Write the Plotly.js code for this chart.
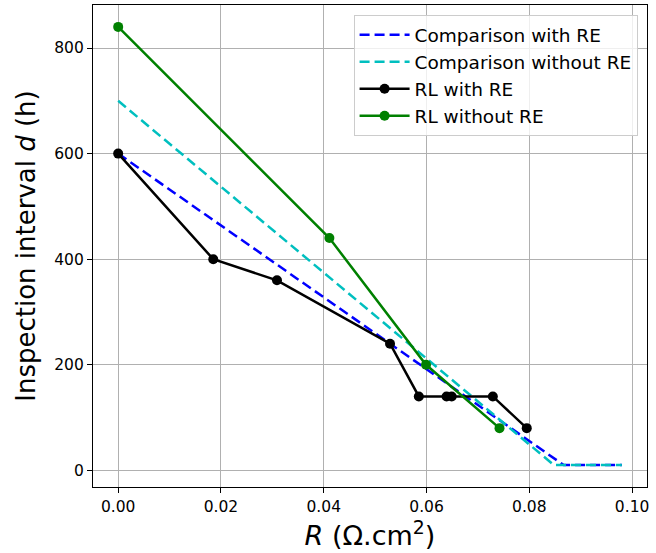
<!DOCTYPE html>
<html><head><meta charset="utf-8">
<script src="https://cdn.plot.ly/plotly-3.0.1.min.js"></script>
<style>body{margin:0;padding:0;background:#fff}#chart{width:656px;height:553px}</style>
</head><body><div id="chart"></div>
<script>
const cmpWithR = [0, 0.0867, 0.098];
const cmpWithD = [600, 10, 10];
const cmpWithoutR = [0, 0.0848, 0.098];
const cmpWithoutD = [700, 10, 10];
const rlWithR = [0, 0.0185, 0.0309, 0.0529, 0.0585, 0.0639, 0.0649, 0.0729, 0.0795];
const rlWithD = [600, 400, 360, 240, 140, 140, 140, 140, 80];
const rlWithoutR = [0, 0.0411, 0.0599, 0.0742];
const rlWithoutD = [840, 440, 200, 80];
const xTicks = [0, 0.02, 0.04, 0.06, 0.08, 0.10];
const xTickText = ['0.00','0.02','0.04','0.06','0.08','0.10'];
const yTicks = [0, 200, 400, 600, 800];

const traces = [
  {x: cmpWithR, y: cmpWithD, mode: 'lines', name: 'Comparison with RE',
   line: {color: '#0000ff', width: 2.5, dash: '10px,5px'}},
  {x: cmpWithoutR, y: cmpWithoutD, mode: 'lines', name: 'Comparison without RE',
   line: {color: '#00bfbf', width: 2.5, dash: '10px,5px'}},
  {x: rlWithR, y: rlWithD, mode: 'lines+markers', name: 'RL with RE',
   line: {color: '#000000', width: 2.5}, marker: {color: '#000000', size: 10}},
  {x: rlWithoutR, y: rlWithoutD, mode: 'lines+markers', name: 'RL without RE',
   line: {color: '#008000', width: 2.5}, marker: {color: '#008000', size: 10}}
];
const axisCommon = {
  showline: true, linecolor: '#000', linewidth: 1.2, mirror: true,
  ticks: 'outside', ticklen: 5, tickcolor: '#000', tickwidth: 1,
  showgrid: true, gridcolor: '#b0b0b0', gridwidth: 1, zeroline: false,
  tickfont: {family: 'DejaVu Sans', size: 15.5, color: '#000'}
};
const layout = {
  width: 656, height: 553,
  margin: {l: 93, r: 9, t: 5, b: 66},
  paper_bgcolor: '#fff', plot_bgcolor: '#fff',
  font: {family: 'DejaVu Sans', color: '#000'},
  showlegend: true,
  legend: {x: 0.983, xanchor: 'right', y: 0.979, yanchor: 'top',
    itemwidth: 50,
    bgcolor: 'rgba(255,255,255,0.8)', bordercolor: '#cccccc', borderwidth: 1,
    font: {family: 'DejaVu Sans', size: 18.5, color: '#000'}},
  xaxis: Object.assign({}, axisCommon, {
    range: [-0.0049, 0.1029], tickvals: xTicks, ticktext: xTickText,
    title: {text: '<i>R</i> (Ω.cm<sup>2</sup>)', font: {family: 'DejaVu Sans', size: 27, color: '#000'}, standoff: 3}
  }),
  yaxis: Object.assign({}, axisCommon, {
    range: [-31.5, 881.5], tickvals: yTicks,
    title: {text: 'Inspection interval <i>d</i> (h)', font: {family: 'DejaVu Sans', size: 26, color: '#000'}, standoff: 11}
  })
};
Plotly.newPlot('chart', traces, layout, {displayModeBar: false});
</script></body></html>
